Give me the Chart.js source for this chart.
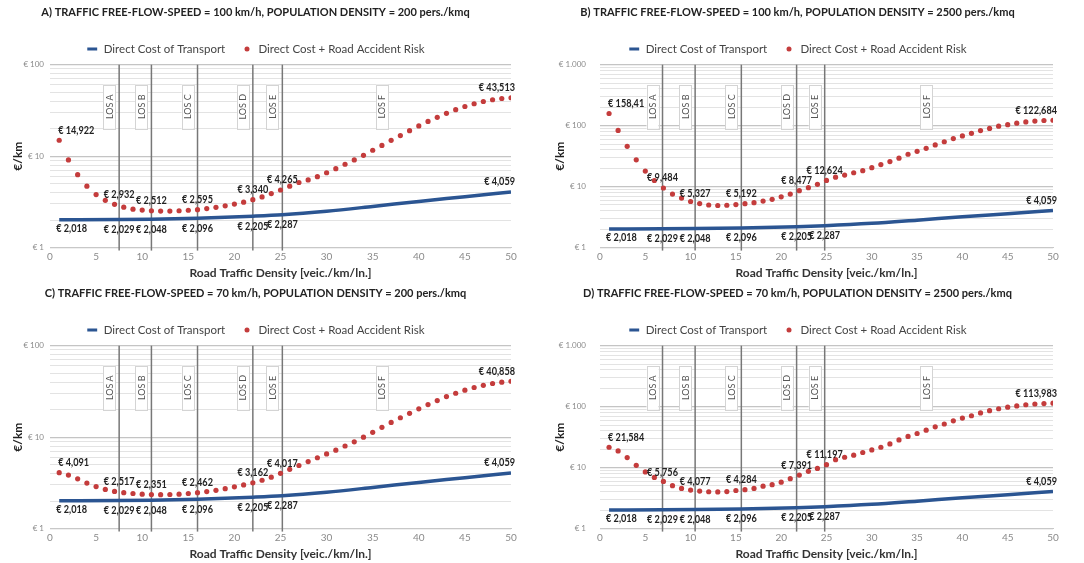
<!DOCTYPE html>
<html>
<head>
<meta charset="utf-8">
<script src="https://cdn.jsdelivr.net/npm/chart.js@4.4.1/dist/chart.umd.min.js"></script>
<style>
  html, body { margin: 0; padding: 0; background: #fff; }
  #wrap { position: relative; width: 1084px; height: 563px; }
  .panel { position: absolute; width: 542px; height: 281px; }
</style>
</head>
<body>
<div id="wrap">
  <div class="panel" style="left:0;top:0"><canvas id="chartA"></canvas></div>
  <div class="panel" style="left:542px;top:0"><canvas id="chartB"></canvas></div>
  <div class="panel" style="left:0;top:281px"><canvas id="chartC"></canvas></div>
  <div class="panel" style="left:542px;top:281px"><canvas id="chartD"></canvas></div>
</div>
<script>
// road traffic density, veic./km/ln.
const density = [1, 2, 3, 4, 5, 6, 7, 8, 9, 10, 11, 12, 13, 14, 15, 16, 17, 18, 19, 20,
  21, 22, 23, 24, 25, 26, 27, 28, 29, 30, 31, 32, 33, 34, 35, 36, 37, 38, 39, 40,
  41, 42, 43, 44, 45, 46, 47, 48, 49, 50];

// Direct cost + road accident risk (€/km), one array per panel
const riskA = [14.922, 9.1, 6.27, 4.69, 3.8, 3.29, 2.97, 2.77, 2.63, 2.57, 2.53, 2.51, 2.51, 2.53, 2.56, 2.6, 2.67, 2.76, 2.86, 2.99,
  3.14, 3.34, 3.58, 3.9, 4.265, 4.7, 5.15, 5.5, 5.96, 6.58, 7.3, 8.15, 9.1, 10.2, 11.6, 13.1, 14.9, 16.8, 19.0, 21.4,
  24.0, 26.6, 29.4, 32.2, 34.9, 37.4, 39.6, 41.4, 42.7, 43.513];
const riskB = [158.41, 83.5, 45.8, 27.5, 18.0, 12.6, 9.5, 7.55, 6.48, 5.7, 5.27, 5.0, 4.9, 4.95, 5.07, 5.25, 5.45, 5.8, 6.2, 6.8,
  7.55, 8.6, 9.6, 10.9, 12.624, 14.3, 15.5, 16.9, 18.3, 20.5, 23.0, 25.8, 29.3, 34.0, 38.0, 42.5, 48.3, 54.5, 61.5, 68.0,
  75.0, 83.0, 90.0, 98.0, 104.0, 110.0, 115.0, 119.0, 121.5, 122.684];
const riskC = [4.091, 3.85, 3.5, 3.15, 2.88, 2.68, 2.55, 2.47, 2.42, 2.38, 2.36, 2.35, 2.36, 2.38, 2.42, 2.47, 2.54, 2.62, 2.73, 2.86,
  3.0, 3.17, 3.38, 3.65, 4.017, 4.45, 4.9, 5.4, 5.95, 6.55, 7.2, 8.0, 8.9, 10.0, 11.3, 12.8, 14.5, 16.3, 18.2, 20.4,
  22.7, 25.1, 27.8, 30.2, 32.6, 34.9, 36.9, 38.6, 39.9, 40.858];
const riskD = [21.584, 18.8, 14.6, 10.9, 8.5, 6.9, 5.95, 5.05, 4.56, 4.28, 4.12, 4.02, 4.0, 4.05, 4.22, 4.35, 4.56, 4.97, 5.25, 5.78,
  6.6, 7.55, 8.7, 9.7, 11.197, 13.5, 14.8, 16.0, 17.7, 19.5, 21.6, 24.5, 28.5, 32.5, 36.3, 41.1, 46.7, 52.0, 58.6, 65.0,
  71.0, 79.0, 86.0, 92.5, 98.0, 103.0, 107.5, 110.5, 112.5, 113.983];

// LOS boundaries (density) - slightly different in the two speed cases
const losAC = [7.5, 11, 16, 22, 25.2];
const losBD = [6.9, 10.5, 15.6, 21.7, 24.8];
const losNames = ['LOS A', 'LOS B', 'LOS C', 'LOS D', 'LOS E', 'LOS F'];
const losFAt = 36;

// Direct cost of transport: at density 1, each LOS boundary, then 30..50
const directTail = [30, 35, 40, 45, 50];
const directCost = [2.018, 2.029, 2.048, 2.096, 2.205, 2.287, 2.5, 2.82, 3.2, 3.6, 4.059];

// data labels (x = 1, LOS A..E boundaries, 50)
const directLabels = ['€ 2,018', '€ 2,029', '€ 2,048', '€ 2,096', '€ 2,205', '€ 2,287', '€ 4,059'];
const riskLabelsA = ['€ 14,922', '€ 2,932', '€ 2,512', '€ 2,595', '€ 3,340', '€ 4,265', '€ 43,513'];
const riskLabelsB = ['€ 158,41', '€ 9,484', '€ 5,327', '€ 5,192', '€ 8,477', '€ 12,624', '€ 122,684'];
const riskLabelsC = ['€ 4,091', '€ 2,517', '€ 2,351', '€ 2,462', '€ 3,162', '€ 4,017', '€ 40,858'];
const riskLabelsD = ['€ 21,584', '€ 5,756', '€ 4,077', '€ 4,284', '€ 7,391', '€ 11,197', '€ 113,983'];

const titles = [
  'A) TRAFFIC FREE-FLOW-SPEED = 100 km/h, POPULATION DENSITY = 200 pers./kmq',
  'B) TRAFFIC FREE-FLOW-SPEED = 100 km/h, POPULATION DENSITY = 2500 pers./kmq',
  'C) TRAFFIC FREE-FLOW-SPEED = 70 km/h, POPULATION DENSITY = 200 pers./kmq',
  'D) TRAFFIC FREE-FLOW-SPEED = 70 km/h, POPULATION DENSITY = 2500 pers./kmq'
];
const yDecades = [1, 10, 100, 1000];
const xTitle = 'Road Traffic Density [veic./km/ln.]';
const yTitle = '€/km';

const FONT = 'Lato, "Open Sans", sans-serif';
const BLUE = '#2b5592';
const RED = '#c43c3c';

// small red dot used as the legend marker
const dotImg = document.createElement('canvas');
dotImg.width = 8; dotImg.height = 8;
(function () {
  const c = dotImg.getContext('2d');
  c.fillStyle = RED;
  c.beginPath(); c.arc(4, 4, 2.5, 0, Math.PI * 2); c.fill();
})();

function parseLabel(s) {
  return parseFloat(s.replace('€ ', '').replace(',', '.'));
}

// labels in the original are in a narrow face, so squeeze them a bit
function drawText(ctx, text, x, y, align) {
  ctx.save();
  ctx.translate(x, y);
  ctx.scale(0.87, 1);
  ctx.textAlign = align;
  ctx.fillText(text, 0, 0);
  ctx.restore();
}

const overlay = {
  id: 'overlay',
  beforeDatasetsDraw(chart, args, opts) {
    const { ctx, chartArea: a, scales: { x } } = chart;
    ctx.save();
    // LOS boundary lines
    ctx.strokeStyle = '#777';
    ctx.lineWidth = 1.5;
    opts.los.forEach(v => {
      const px = x.getPixelForValue(v);
      ctx.beginPath();
      ctx.moveTo(px, a.top);
      ctx.lineTo(px, a.bottom + 3);
      ctx.stroke();
    });
    // LOS name boxes
    const centers = opts.los.map(v => x.getPixelForValue(v) - 10).concat([x.getPixelForValue(losFAt)]);
    ctx.font = '9px ' + FONT;
    losNames.forEach((name, i) => {
      const cx = centers[i], cy = a.top + 42, w = 12, h = 44;
      ctx.fillStyle = '#fff';
      ctx.fillRect(cx - w / 2, cy - h / 2, w, h);
      ctx.strokeStyle = '#d4d4d4';
      ctx.lineWidth = 1;
      ctx.strokeRect(Math.round(cx - w / 2) + 0.5, Math.round(cy - h / 2) + 0.5, w, h);
      ctx.save();
      ctx.translate(cx, cy);
      ctx.rotate(-Math.PI / 2);
      ctx.fillStyle = '#555';
      ctx.textAlign = 'center';
      ctx.textBaseline = 'middle';
      ctx.fillText(name, 0, 0.5);
      ctx.restore();
    });
    ctx.restore();
  },
  afterDatasetsDraw(chart, args, opts) {
    const { ctx, scales: { x, y } } = chart;
    const xs = [1].concat(opts.los, [50]);
    ctx.save();
    ctx.font = 'bold 10.5px ' + FONT;
    ctx.fillStyle = '#222';
    ctx.textBaseline = 'middle';
    const last = xs.length - 1;
    directLabels.forEach((t, i) => {
      const px = x.getPixelForValue(xs[i]), py = y.getPixelForValue(parseLabel(t));
      if (i === 0) drawText(ctx, t, px - 3, py + 9, 'left');
      else if (i === last) drawText(ctx, t, px + 4, py - 10, 'right');
      else drawText(ctx, t, px, py + 10, 'center');
    });
    opts.riskLabels.forEach((t, i) => {
      const px = x.getPixelForValue(xs[i]), py = y.getPixelForValue(parseLabel(t));
      if (i === 0) drawText(ctx, t, px - 1, py - 10, 'left');
      else if (i === last) drawText(ctx, t, px + 4, py - 10, 'right');
      else drawText(ctx, t, px, py - 10, 'center');
    });
    ctx.restore();
  }
};

function makeChart(id, title, risk, riskLabels, los, yMax, axisWidth, tickPad) {
  const directX = [1].concat(los, directTail);
  return new Chart(document.getElementById(id), {
    type: 'line',
    data: {
      datasets: [
        {
          label: 'Direct Cost of Transport',
          data: directX.map((d, i) => ({ x: d, y: directCost[i] })),
          borderColor: BLUE,
          backgroundColor: BLUE,
          borderWidth: 3.5,
          pointRadius: 0,
          cubicInterpolationMode: 'monotone'
        },
        {
          label: 'Direct Cost + Road Accident Risk',
          data: density.map((d, i) => ({ x: d, y: risk[i] })),
          showLine: false,
          pointRadius: 2.6,
          pointBorderWidth: 0,
          pointBackgroundColor: RED,
          backgroundColor: RED,
          borderColor: RED
        }
      ]
    },
    options: {
      responsive: true,
      maintainAspectRatio: false,
      animation: false,
      layout: { padding: { left: 0, right: 31, top: 0, bottom: 1 } },
      scales: {
        x: {
          type: 'linear',
          min: 0,
          max: 50,
          grid: { display: false, drawTicks: false },
          border: { display: true, color: '#c8c8c8' },
          ticks: { stepSize: 5, color: '#8a8a8a', font: { size: 10, family: FONT }, padding: 3, maxRotation: 0 },
          title: { display: true, text: xTitle, color: '#333', font: { size: 12, weight: 'bold', family: FONT }, padding: { top: 0, bottom: 0 } }
        },
        y: {
          type: 'logarithmic',
          min: 1,
          max: yMax,
          afterFit: s => { s.width = axisWidth; },
          afterBuildTicks: s => {
            const t = [];
            yDecades.filter(d => d < yMax).forEach(d => {
              for (let m = 1; m < 10; m++) t.push({ value: m * d });
            });
            t.push({ value: yMax });
            s.ticks = t;
          },
          grid: {
            color: c => yDecades.includes(c.tick.value) ? '#c4c4c4' : '#e3e3e3',
            lineWidth: c => yDecades.includes(c.tick.value) ? 1.2 : 1,
            drawTicks: false
          },
          border: { display: false },
          ticks: {
            autoSkip: false,
            color: '#8a8a8a',
            font: { size: 8, family: FONT },
            padding: tickPad,
            callback: v => yDecades.includes(v) ? '€ ' + String(v).replace(/\B(?=(\d{3})+(?!\d))/g, '.') : ''
          },
          title: { display: true, text: yTitle, color: '#222', font: { size: 12, weight: 'bold', family: FONT }, padding: { top: 11, bottom: 0 } }
        }
      },
      plugins: {
        title: {
          display: true,
          text: title,
          color: '#222',
          font: { size: 11, weight: 'bold', family: FONT },
          padding: { top: 6, bottom: 8 }
        },
        legend: {
          display: true,
          labels: {
            usePointStyle: true,
            boxHeight: 7,
            color: '#444',
            font: { size: 11.5, family: FONT },
            padding: 16,
            generateLabels(chart) {
              const items = Chart.defaults.plugins.legend.labels.generateLabels(chart);
              items[0].pointStyle = 'line';
              items[0].strokeStyle = BLUE;
              items[0].lineWidth = 3;
              items[1].pointStyle = dotImg;
              return items;
            }
          }
        },
        tooltip: { enabled: false },
        overlay: { los: los, riskLabels: riskLabels }
      }
    },
    plugins: [overlay]
  });
}

makeChart('chartA', titles[0], riskA, riskLabelsA, losAC, 100, 50, 6);
makeChart('chartB', titles[1], riskB, riskLabelsB, losBD, 1000, 58, 14);
makeChart('chartC', titles[2], riskC, riskLabelsC, losAC, 100, 50, 6);
makeChart('chartD', titles[3], riskD, riskLabelsD, losBD, 1000, 58, 14);
</script>
</body>
</html>
